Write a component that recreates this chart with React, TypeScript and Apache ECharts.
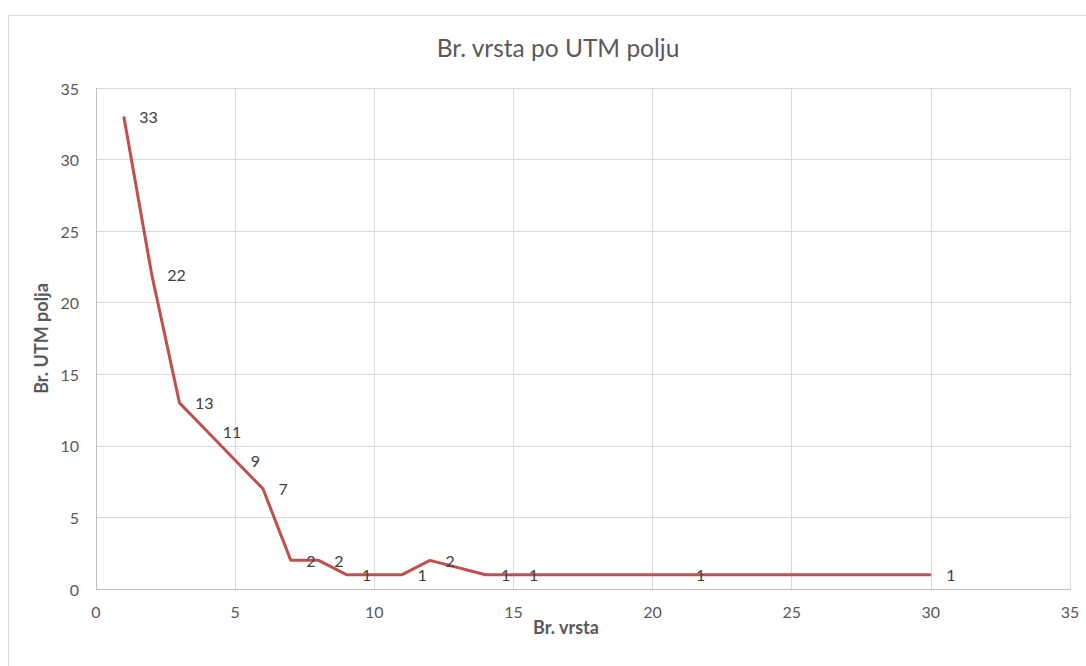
import React, { useEffect, useRef } from "react";
import * as echarts from "echarts";

const speciesCounts = [1, 2, 3, 4, 5, 6, 7, 8, 9, 11, 12, 14, 15, 21, 30];
const fieldCounts = [33, 22, 13, 11, 9, 7, 2, 2, 1, 1, 2, 1, 1, 1, 1];
const titleText = "Br. vrsta po UTM polju";
const xName = "Br. vrsta";
const yName = "Br. UTM polja";

const FONT = "Lato, 'Open Sans', sans-serif";

export default function App() {
  const ref = useRef<HTMLDivElement>(null);
  useEffect(() => {
    if (!ref.current) return;
    const chart = echarts.init(ref.current, null, { renderer: "svg" });
    const data = speciesCounts.map((x, i) => [x, fieldCounts[i]]);
    chart.setOption({
      animation: false,
      backgroundColor: "#ffffff",
      textStyle: { fontFamily: FONT },
      title: {
        text: titleText,
        left: 553,
        top: 30,
        textAlign: "center",
        textStyle: { fontFamily: FONT, fontSize: 24.5, fontWeight: "normal", color: "#595959" },
      },
      graphic: [
        {
          type: "rect",
          shape: { x: 8.5, y: 15.5, width: 1200, height: 800 },
          style: { fill: "none", stroke: "#d9d9d9", lineWidth: 1 },
          silent: true,
          z: -10,
        },
        {
          type: "text",
          x: 566,
          y: 627,
          style: {
            text: xName,
            fontFamily: FONT,
            fontSize: 18,
            fontWeight: "bold",
            fill: "#595959",
            textAlign: "center",
            textVerticalAlign: "middle",
          },
        },
      ],
      grid: { left: 96, right: 16, top: 88, bottom: 77, containLabel: false },
      xAxis: {
        type: "value",
        min: 0,
        max: 35,
        interval: 5,
        axisLine: { show: true, lineStyle: { color: "#bfbfbf", width: 1 } },
        axisTick: { show: false },
        axisLabel: { color: "#595959", fontSize: 16, fontFamily: FONT, margin: 14 },
        splitLine: { show: true, lineStyle: { color: "#d9d9d9", width: 1 } },
      },
      yAxis: {
        type: "value",
        min: 0,
        max: 35,
        interval: 5,
        name: yName,
        nameLocation: "middle",
        nameGap: 43,
        nameTextStyle: { color: "#595959", fontSize: 18, fontWeight: "bold", fontFamily: FONT },
        axisLine: { show: true, lineStyle: { color: "#bfbfbf", width: 1 } },
        axisTick: { show: false },
        axisLabel: { color: "#595959", fontSize: 16, fontFamily: FONT, margin: 17 },
        splitLine: { show: true, lineStyle: { color: "#d9d9d9", width: 1 } },
      },
      series: [
        {
          type: "line",
          data,
          symbol: "circle",
          symbolSize: 1,
          showSymbol: true,
          itemStyle: { color: "#c0504d", borderWidth: 0 },
          lineStyle: { color: "#c0504d", width: 3 },
          label: {
            show: true,
            position: "right",
            distance: 15,
            color: "#404040",
            fontSize: 16,
            fontFamily: FONT,
            formatter: (p: any) => String(p.value[1]),
          },
        },
      ],
    });
    return () => chart.dispose();
  }, []);
  return (
    <div
      ref={ref}
      style={{ position: "absolute", left: 0, top: 0, width: 1086, height: 666 }}
    />
  );
}
